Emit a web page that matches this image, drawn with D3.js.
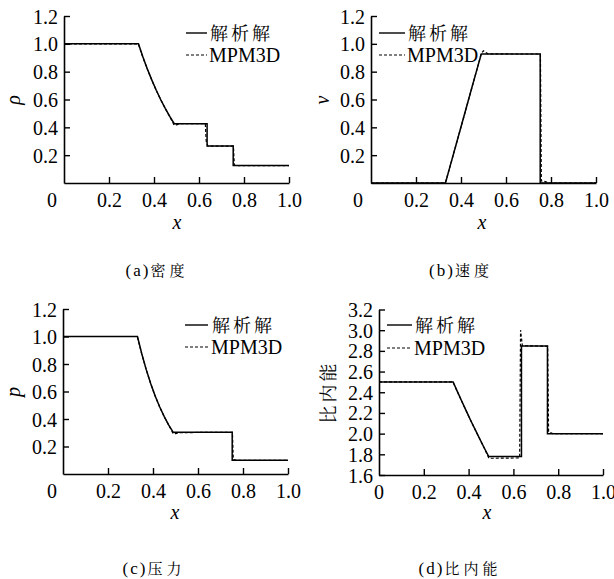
<!DOCTYPE html>
<html>
<head>
<meta charset="utf-8">
<script src="https://cdn.jsdelivr.net/npm/d3@7"></script>
<style>
  html, body { margin: 0; padding: 0; background: #fff; }
  svg { display: block; }
</style>
</head>
<body>
<svg id="chart" width="614" height="579"></svg>
<script>
// ---------------- data ----------------
const xTicks = [0.2, 0.4, 0.6, 0.8, 1.0];
const unitTicks = [0.2, 0.4, 0.6, 0.8, 1.0, 1.2];
const energyTicks = [1.6, 1.8, 2.0, 2.2, 2.4, 2.6, 2.8, 3.0, 3.2];

const seriesNames = ["解析解", "MPM3D"];
const captions = ["(a)", "(b)", "(c)", "(d)"];
const captionTexts = ["密度", "速度", "压力", "比内能"];
const yLabels = ["ρ", "v", "p", "比内能"];

// analytical solution
const xExact   = [0, 0.331, 0.35, 0.37, 0.39, 0.41, 0.43, 0.45, 0.47, 0.49, 0.636, 0.636, 0.752, 0.752, 1.0];
const rhoExact = [1.0, 1.0, 0.909, 0.821, 0.741, 0.666, 0.598, 0.536, 0.478, 0.426, 0.426, 0.266, 0.266, 0.125, 0.125];
const vExact   = [0, 0, 0.112, 0.228, 0.345, 0.462, 0.578, 0.695, 0.811, 0.927, 0.927, 0.927, 0.927, 0, 0];
const pExact   = [1.0, 1.0, 0.875, 0.759, 0.657, 0.566, 0.487, 0.417, 0.356, 0.303, 0.303, 0.303, 0.303, 0.1, 0.1];
const eExact   = [2.5, 2.5, 2.406, 2.311, 2.217, 2.125, 2.036, 1.948, 1.861, 1.778, 1.778, 2.848, 2.848, 2.0, 2.0];

// MPM3D numerical results
const xMpm   = [0, 0.33, 0.35, 0.37, 0.39, 0.41, 0.43, 0.45, 0.47, 0.49, 0.50, 0.52, 0.628, 0.632, 0.640, 0.753, 0.757, 0.775, 0.79, 1.0];
const rhoMpm = [1.0, 1.0, 0.905, 0.82, 0.74, 0.665, 0.598, 0.535, 0.476, 0.415, 0.418, 0.426, 0.426, 0.30, 0.265, 0.265, 0.128, 0.125, 0.125, 0.125];
const vMpm   = [0, 0, 0.11, 0.228, 0.345, 0.46, 0.578, 0.695, 0.81, 0.93, 0.95, 0.928, 0.927, 0.927, 0.927, 0.927, 0.015, 0.01, 0.0, 0];
const pMpm   = [1.0, 1.0, 0.873, 0.758, 0.656, 0.565, 0.486, 0.416, 0.355, 0.292, 0.294, 0.30, 0.303, 0.303, 0.303, 0.303, 0.105, 0.1, 0.1, 0.1];
const eMpm   = [2.5, 2.5, 2.405, 2.31, 2.216, 2.124, 2.035, 1.947, 1.86, 1.765, 1.762, 1.762, 1.765, 3.0, 2.85, 2.845, 2.02, 2.0, 2.0, 2.0];

// ---------------- layout ----------------
const SERIF = "Liberation Serif";
const CJK = "Noto Serif CJK SC";

const panels = [
  { box: [64, 289, 16, 183],  dom: [0, 1.2], ticks: unitTicks,   exact: rhoExact, mpm: rhoMpm, yl: 0,
    leg: [186, 207, 33, 55, 210], origin: [52, 200], xlab: [177, 222], ylab: [13, 100], cap: [157, 270], italicY: true },
  { box: [371, 596, 16, 183], dom: [0, 1.2], ticks: unitTicks,   exact: vExact,   mpm: vMpm,   yl: 1,
    leg: [379, 405, 33, 55, 408], origin: [358, 200], xlab: [482, 222], ylab: [322, 100], cap: [461, 270], italicY: true },
  { box: [63, 288, 309, 474], dom: [0, 1.2], ticks: unitTicks,   exact: pExact,   mpm: pMpm,   yl: 2,
    leg: [185, 208, 325, 347, 212], origin: [52, 491], xlab: [175, 512], ylab: [13, 392], cap: [154, 568], italicY: true },
  { box: [379, 603, 309.5, 475], dom: [1.6, 3.2], ticks: energyTicks, exact: eExact, mpm: eMpm, yl: 3,
    leg: [387, 412, 325, 348, 415], origin: [379, 492], xlab: [487, 512], ylab: [329, 392], cap: [460, 568], italicY: false }
];

const svg = d3.select("#chart");
const fmt = d3.format(".1f");

function serif(sel, size) {
  return sel.attr("font-family", null).attr("font-size", null)
    .style("font-family", SERIF).style("font-size", size + "px").style("fill", "#000");
}
function cjk(sel, size) {
  return sel.style("font-family", CJK).style("font-size", size + "px").style("fill", "#000");
}

panels.forEach((P, i) => {
  const [L, R, T, B] = P.box;
  const x = d3.scaleLinear().domain([0, 1]).range([L, R]);
  const y = d3.scaleLinear().domain(P.dom).range([B, T]);
  const g = svg.append("g");

  // axes
  const ax = g.append("g").attr("transform", `translate(0,${B})`)
    .call(d3.axisBottom(x).tickValues(xTicks).tickFormat(fmt).tickSizeInner(-6).tickSizeOuter(0));
  const ay = g.append("g").attr("transform", `translate(${L},0)`)
    .call(d3.axisLeft(y).tickValues(P.ticks).tickFormat(fmt).tickSizeInner(-6).tickSizeOuter(0).tickPadding(6));
  [ax, ay].forEach(a => {
    a.attr("font-family", null).attr("font-size", null);
    a.select(".domain").attr("stroke", "#000").attr("stroke-width", 1.6);
    a.selectAll(".tick line").attr("stroke", "#000").attr("stroke-width", 1.4);
    serif(a.selectAll("text"), 20);
  });
  ax.selectAll(".tick text").attr("y", 17).attr("dy", "0.35em");
  ay.selectAll(".tick text").attr("dy", "0.35em");

  // origin label
  serif(g.append("text"), 20).attr("x", P.origin[0]).attr("y", P.origin[1])
    .attr("dy", "0.35em").attr("text-anchor", "middle").text("0");

  // axis titles
  serif(g.append("text"), 20).attr("x", P.xlab[0]).attr("y", P.xlab[1])
    .attr("dy", "0.35em").attr("text-anchor", "middle").style("font-style", "italic").text("x");
  const yt = g.append("text")
    .attr("transform", `translate(${P.ylab[0]},${P.ylab[1]}) rotate(-90)`)
    .attr("dy", "0.35em").attr("text-anchor", "middle").text(yLabels[P.yl]);
  if (P.italicY) serif(yt, 20).style("font-style", "italic");
  else cjk(yt, 18).style("letter-spacing", "3px");

  // lines
  const lineExact = d3.line().x((d, k) => x(xExact[k])).y(d => y(d));
  const lineMpm = d3.line().x((d, k) => x(xMpm[k])).y(d => y(d));
  g.append("path").attr("d", lineMpm(P.mpm)).attr("fill", "none")
    .attr("stroke", "#000").attr("stroke-width", 1.2).attr("stroke-dasharray", "3,2");
  g.append("path").attr("d", lineExact(P.exact)).attr("fill", "none")
    .attr("stroke", "#000").attr("stroke-width", 1.5);

  // legend
  const [lx0, lx1, ly0, ly1, tx] = P.leg;
  g.append("line").attr("x1", lx0).attr("x2", lx1).attr("y1", ly0).attr("y2", ly0)
    .attr("stroke", "#000").attr("stroke-width", 1.4);
  g.append("line").attr("x1", lx0).attr("x2", lx1).attr("y1", ly1).attr("y2", ly1)
    .attr("stroke", "#000").attr("stroke-width", 1.2).attr("stroke-dasharray", "3,2");
  cjk(g.append("text"), 18).attr("x", tx).attr("y", ly0).attr("dy", "0.38em")
    .style("letter-spacing", "3px").text(seriesNames[0]);
  serif(g.append("text"), 20).attr("x", tx - 1).attr("y", ly1).attr("dy", "0.35em").text(seriesNames[1]);

  // caption
  const cap = g.append("text").attr("x", P.cap[0]).attr("y", P.cap[1]).attr("dy", "0.36em")
    .attr("text-anchor", "middle");
  serif(cap.append("tspan"), 17).style("letter-spacing", "2px").text(captions[i]);
  cjk(cap.append("tspan"), 15).style("letter-spacing", "4px").text(captionTexts[i]);
});
</script>
</body>
</html>
